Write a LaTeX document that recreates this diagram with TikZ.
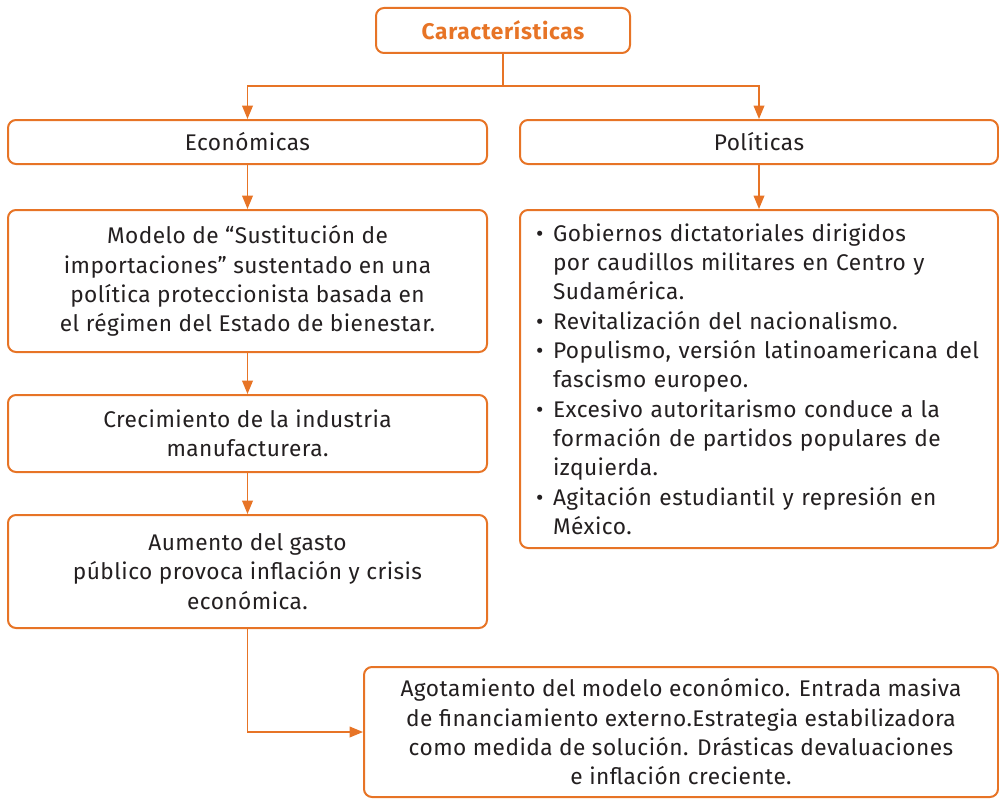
\documentclass[tikz,border=0pt]{standalone}
\usepackage{fontspec}
\setmainfont{Fira Sans}[LetterSpace=2]
\usetikzlibrary{arrows.meta}
\definecolor{naranja}{RGB}{231,116,38}
\definecolor{tinta}{RGB}{35,31,32}
\newcommand{\itm}{\makebox[12.75pt][l]{\textbullet}}
\newcommand{\sigue}{\hspace*{12.75pt}}

\begin{document}
\begin{tikzpicture}[x=0.75pt, y=-0.75pt,
	every node/.style={font=\fontsize{17}{22}\selectfont, text=tinta},
	caja/.style={draw=naranja, line width=1.5pt, rounded corners=6pt, align=center, inner sep=0pt},
	conn/.style={draw=naranja, line width=1.1pt},
	arr/.style={conn, -{Triangle[length=10pt, width=8pt]}}]
	\useasboundingbox (0,0) rectangle (999,799);
	\node[caja, minimum width=190.5pt, minimum height=33.75pt, text=naranja, font=\fontsize{17}{22}\selectfont\bfseries\addfontfeatures{LetterSpace=3}] (cara) at (503,30.5) {Características};
	\node[caja, minimum width=359.25pt, minimum height=33pt] (econ) at (247.5,142) {Económicas};
	\node[caja, minimum width=358.5pt, minimum height=33pt] (poli) at (759,142) {Políticas};
	\node[caja, minimum width=359.25pt, minimum height=106.5pt] (mod) at (247.5,281) {Modelo de “Sustitución de\\ importaciones” sustentado en una\\ política proteccionista basada en\\ el régimen del Estado de bienestar.};
	\node[caja, minimum width=359.25pt, minimum height=57.75pt] (crec) at (247.5,433.5) {Crecimiento de la industria\\ manufacturera.};
	\node[caja, minimum width=359.25pt, minimum height=84.75pt] (aum) at (247.5,571.5) {Aumento del gasto\\ público provoca inflación y crisis\\ económica.};
	\node[caja, align=left, minimum width=358.5pt, minimum height=253.5pt, text width=334.5pt] (polt) at (759,379) {%
		\itm Gobiernos dictatoriales dirigidos\\
		\sigue por caudillos militares en Centro y\\
		\sigue Sudamérica.\\
		\itm Revitalización del nacionalismo.\\
		\itm Populismo, versión latinoamericana del\\
		\sigue fascismo europeo.\\
		\itm Excesivo autoritarismo conduce a la\\
		\sigue formación de partidos populares de\\
		\sigue izquierda.\\
		\itm Agitación estudiantil y represión en\\
		\sigue México.};
	\node[caja, minimum width=475.5pt, minimum height=97.5pt] (ago) at (681,732) {Agotamiento del modelo económico. Entrada masiva\\ de financiamiento externo.Estrategia estabilizadora\\ como medida de solución. Drásticas devaluaciones\\ e inflación creciente.};
	% ramas
	\coordinate (split) at (503,86);
	\draw[conn] (cara) -- (split);
	\draw[arr] (split) -| (econ);
	\draw[arr] (split) -| (poli);
	\draw[arr] (econ) -- (mod);
	\draw[arr] (mod) -- (crec);
	\draw[arr] (crec) -- (aum);
	\draw[arr] (poli) -- (polt);
	\draw[arr] (aum) |- (ago);
\end{tikzpicture}
\end{document}
